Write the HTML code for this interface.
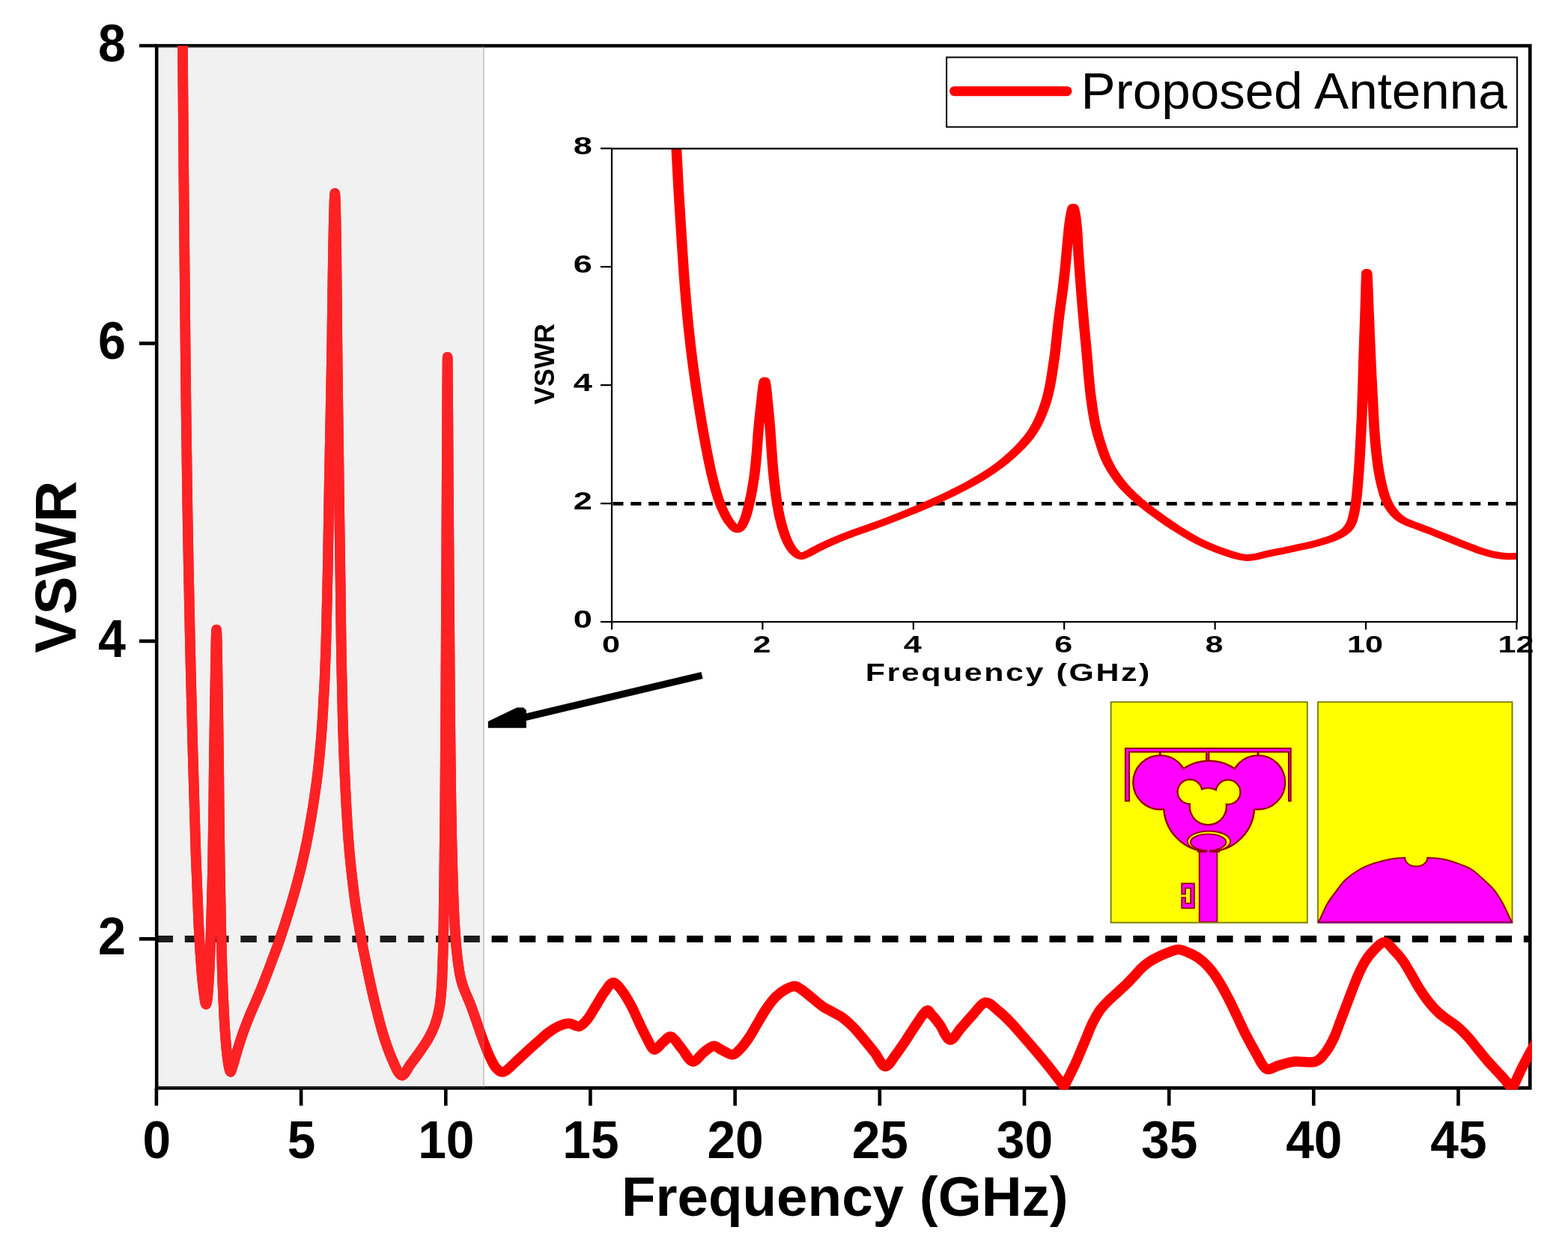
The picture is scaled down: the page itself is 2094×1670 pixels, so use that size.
<!DOCTYPE html><html><head><meta charset="utf-8"><style>html,body{margin:0;padding:0;background:#fff;overflow:hidden}svg{display:block}</style></head><body><svg width="2094" height="1670" viewBox="0 0 2094 1670">
<defs>
<clipPath id="cm"><rect x="207" y="61" width="1838.8" height="1393.8"/></clipPath>
<clipPath id="ci"><rect x="0" y="198.4" width="790.20" height="632"/></clipPath>
</defs>
<rect width="2094" height="1670" fill="#fff"/>
<g stroke="#000" stroke-width="4.6" fill="none">
<rect x="209.2" y="61.1" width="1834.1" height="1391.3"/>
</g>
<path d="M186,1253.4H209.2 M186,855.9H209.2 M186,458.4H209.2 M186,61.0H209.2 M208.9,1452.4V1476 M402.1,1452.4V1476 M595.3,1452.4V1476 M788.4,1452.4V1476 M981.6,1452.4V1476 M1174.8,1452.4V1476 M1368.0,1452.4V1476 M1561.2,1452.4V1476 M1754.3,1452.4V1476 M1947.5,1452.4V1476" stroke="#000" stroke-width="4.6" fill="none"/>
<path d="M209.55,1253.4H2043" stroke="#000" stroke-width="9" stroke-dasharray="21.5 15.75" fill="none"/>
<path d="M243.3,-60.0 C243.4,-38.8 243.7,23.0 244.0,67.3 C244.3,111.7 244.7,157.5 245.1,206.3 C245.6,255.1 246.1,307.8 246.6,360.1 C247.1,412.3 247.6,466.6 248.2,519.8 C248.9,573.1 249.6,626.3 250.4,679.6 C251.3,732.8 252.3,786.1 253.5,839.3 C254.6,892.5 256.0,949.1 257.4,999.0 C258.7,1048.9 260.1,1099.2 261.5,1138.7 C262.8,1178.2 264.1,1209.5 265.4,1236.0 C266.7,1262.5 268.1,1282.0 269.3,1297.6 C270.6,1313.3 271.8,1322.7 272.8,1329.8 C273.8,1337.0 274.5,1341.0 275.3,1340.7 C276.1,1340.3 276.7,1336.0 277.5,1327.8 C278.2,1319.6 279.0,1307.9 279.8,1291.5 C280.6,1275.0 281.4,1251.4 282.1,1229.0 C282.8,1206.5 283.5,1180.8 284.0,1156.8 C284.5,1132.7 284.8,1108.6 285.1,1084.5 C285.4,1060.4 285.6,1037.4 285.9,1012.2 C286.3,987.0 286.6,961.7 287.1,933.1 C287.7,904.5 288.5,840.6 289.1,840.6 C289.8,840.6 290.5,904.5 291.0,933.1 C291.5,961.7 291.8,987.0 292.1,1012.2 C292.4,1037.4 292.5,1060.4 292.8,1084.5 C293.1,1108.6 293.4,1132.7 293.7,1156.8 C294.1,1180.8 294.5,1204.9 295.0,1229.0 C295.5,1253.0 296.1,1278.7 296.9,1301.2 C297.7,1323.7 298.8,1347.0 299.7,1364.1 C300.7,1381.1 301.8,1394.0 302.8,1403.7 C303.7,1413.5 304.5,1418.0 305.3,1422.5 C306.2,1427.0 306.9,1430.5 307.8,1430.7 C308.7,1431.0 309.5,1427.3 310.6,1423.9 C311.8,1420.6 313.0,1415.8 314.5,1410.6 C316.1,1405.4 318.0,1398.7 319.8,1392.9 C321.7,1387.1 323.7,1381.1 325.7,1375.6 C327.7,1370.2 329.6,1365.1 331.6,1360.2 C333.5,1355.3 335.5,1350.8 337.4,1346.3 C339.4,1341.7 341.4,1337.2 343.3,1332.8 C345.2,1328.4 347.0,1324.3 348.9,1319.6 C350.8,1314.9 352.6,1310.4 354.8,1304.8 C356.9,1299.1 359.4,1292.6 362.0,1285.8 C364.5,1279.0 367.4,1271.6 370.1,1264.1 C372.7,1256.5 375.4,1248.8 378.1,1240.7 C380.8,1232.5 383.5,1224.1 386.2,1215.3 C388.9,1206.5 391.6,1197.5 394.3,1187.8 C396.9,1178.1 399.8,1167.5 402.3,1157.1 C404.8,1146.6 407.3,1135.4 409.4,1125.1 C411.5,1114.8 413.1,1105.6 414.9,1095.3 C416.7,1085.1 418.4,1074.9 420.0,1063.4 C421.7,1052.0 423.5,1039.2 424.9,1026.7 C426.3,1014.1 427.5,1001.0 428.6,988.2 C429.7,975.4 430.5,962.6 431.3,949.8 C432.1,937.0 432.8,924.2 433.4,911.4 C434.0,898.6 434.5,885.8 434.9,873.0 C435.4,860.2 435.7,847.3 436.0,834.6 C436.3,821.9 436.6,810.4 436.9,796.7 C437.2,783.0 437.6,768.9 437.9,752.3 C438.2,735.8 438.5,715.7 438.8,697.6 C439.1,679.4 439.4,661.6 439.7,643.7 C440.0,625.7 440.4,609.2 440.8,589.8 C441.2,570.5 441.6,549.1 442.0,527.7 C442.4,506.3 442.8,483.5 443.2,461.4 C443.5,439.3 443.8,416.5 444.1,395.1 C444.4,373.6 444.7,351.0 445.0,332.9 C445.3,314.7 445.6,298.7 446.0,286.2 C446.4,273.7 446.8,258.0 447.2,258.0 C447.6,258.0 448.1,273.7 448.4,286.2 C448.7,298.7 449.0,314.7 449.2,332.9 C449.4,351.0 449.6,373.6 449.8,395.1 C450.0,416.5 450.2,439.3 450.4,461.4 C450.7,483.5 451.0,505.6 451.2,527.7 C451.5,549.8 451.8,571.9 452.1,594.0 C452.4,616.1 452.7,639.1 452.9,660.3 C453.2,681.4 453.5,701.7 453.8,720.9 C454.1,740.1 454.3,757.5 454.6,775.3 C454.8,793.2 455.0,811.8 455.2,828.1 C455.4,844.3 455.7,859.1 455.9,873.0 C456.1,886.9 456.4,898.6 456.7,911.4 C456.9,924.2 457.2,937.0 457.5,949.8 C457.8,962.6 458.1,975.4 458.6,988.2 C459.0,1001.0 459.5,1013.9 460.1,1026.7 C460.6,1039.5 461.3,1052.2 461.9,1065.0 C462.6,1077.8 463.3,1091.2 464.1,1103.4 C464.9,1115.7 465.8,1127.5 466.8,1138.7 C467.9,1150.0 468.8,1159.4 470.2,1171.0 C471.5,1182.6 473.0,1195.1 474.9,1208.2 C476.9,1221.3 479.3,1235.9 481.8,1249.7 C484.3,1263.4 486.9,1276.4 489.9,1290.5 C492.8,1304.7 496.0,1319.6 499.5,1334.4 C503.1,1349.2 507.2,1366.1 511.2,1379.3 C515.2,1392.6 519.5,1404.7 523.7,1414.1 C527.8,1423.4 532.0,1434.5 536.1,1435.5 C540.3,1436.5 544.4,1425.5 548.6,1420.2 C552.7,1414.8 557.1,1409.0 561.0,1403.3 C565.0,1397.6 569.1,1392.0 572.5,1385.8 C575.9,1379.7 579.0,1373.4 581.4,1366.4 C583.8,1359.5 585.6,1352.3 587.0,1344.4 C588.4,1336.4 589.0,1328.7 589.7,1318.8 C590.4,1308.9 590.8,1298.6 591.2,1284.9 C591.7,1271.3 592.1,1256.2 592.4,1236.9 C592.8,1217.6 593.0,1194.5 593.3,1169.0 C593.6,1143.6 593.9,1118.8 594.2,1084.3 C594.5,1049.9 594.8,1011.5 595.1,962.4 C595.4,913.3 595.7,846.9 596.0,789.6 C596.3,732.3 596.6,670.7 596.8,618.6 C597.1,566.4 597.4,476.8 597.7,476.8 C598.0,476.8 598.4,566.4 598.7,618.6 C599.1,670.7 599.5,733.3 599.9,789.6 C600.3,846.0 600.7,911.4 601.1,956.7 C601.5,1002.1 601.9,1033.4 602.3,1061.7 C602.7,1090.1 603.0,1106.5 603.5,1126.7 C603.9,1147.0 604.4,1166.2 605.0,1183.2 C605.6,1200.1 606.2,1215.2 606.9,1228.4 C607.6,1241.6 608.4,1252.5 609.2,1262.2 C610.0,1271.8 610.9,1279.3 611.9,1286.3 C612.8,1293.3 613.7,1298.9 614.8,1304.1 C616.0,1309.2 617.1,1313.0 618.6,1317.4 C620.1,1321.8 621.9,1325.6 623.9,1330.4 C625.8,1335.2 626.7,1336.4 630.3,1346.3 C633.9,1356.1 641.6,1379.0 645.5,1389.5 C649.4,1400.0 650.8,1403.4 653.5,1409.3 C656.2,1415.2 658.8,1421.4 662.0,1425.0 C665.2,1428.6 668.4,1432.0 672.9,1430.8 C677.4,1429.5 683.7,1421.9 688.7,1417.5 C693.7,1413.1 698.2,1408.6 703.0,1404.2 C707.8,1399.9 712.5,1395.6 717.3,1391.4 C722.1,1387.2 726.8,1382.6 731.6,1379.0 C736.4,1375.4 741.2,1372.0 746.0,1369.9 C750.8,1367.7 755.8,1366.1 760.3,1366.2 C764.8,1366.3 769.1,1371.1 773.2,1370.2 C777.3,1369.3 780.8,1365.2 784.6,1360.6 C788.4,1355.9 792.3,1348.4 796.1,1342.3 C799.9,1336.2 803.8,1328.8 807.6,1323.8 C811.4,1318.7 815.0,1311.8 819.0,1311.8 C823.0,1311.8 827.5,1318.5 831.6,1323.8 C835.6,1329.0 839.6,1336.3 843.4,1343.4 C847.1,1350.5 850.7,1359.2 854.1,1366.3 C857.5,1373.4 860.5,1380.0 863.8,1385.8 C867.0,1391.6 870.0,1400.0 873.5,1401.0 C877.0,1402.0 881.1,1394.6 884.9,1391.8 C888.7,1389.0 892.2,1382.8 896.4,1384.1 C900.6,1385.4 905.2,1393.9 910.0,1399.4 C914.8,1404.9 920.1,1416.1 925.0,1417.1 C929.9,1418.1 934.5,1408.8 939.1,1405.3 C943.7,1401.9 948.3,1396.9 952.6,1396.4 C956.9,1395.9 960.6,1400.4 965.0,1402.3 C969.3,1404.2 974.6,1408.4 978.7,1407.8 C982.8,1407.2 986.1,1402.8 989.8,1399.0 C993.4,1395.1 996.8,1390.4 1000.5,1384.9 C1004.1,1379.4 1007.8,1372.5 1011.6,1366.1 C1015.4,1359.7 1019.3,1352.5 1023.5,1346.5 C1027.6,1340.5 1032.0,1334.7 1036.3,1330.3 C1040.7,1326.0 1045.3,1322.8 1049.6,1320.5 C1053.8,1318.2 1057.7,1316.0 1061.7,1316.5 C1065.7,1317.0 1069.5,1320.5 1073.6,1323.3 C1077.6,1326.1 1081.9,1330.1 1086.1,1333.5 C1090.3,1336.9 1094.6,1340.8 1099.0,1343.8 C1103.4,1346.7 1107.8,1348.5 1112.2,1351.1 C1116.7,1353.6 1121.3,1355.6 1125.8,1358.9 C1130.4,1362.3 1134.9,1366.4 1139.4,1371.1 C1144.0,1375.8 1148.7,1381.4 1153.4,1387.1 C1158.1,1392.7 1163.0,1398.8 1167.8,1404.8 C1172.6,1410.9 1177.4,1422.9 1182.1,1423.5 C1186.8,1424.1 1191.5,1414.1 1196.0,1408.4 C1200.6,1402.7 1204.9,1396.0 1209.3,1389.4 C1213.7,1382.8 1218.1,1375.5 1222.7,1368.8 C1227.3,1362.2 1233.4,1351.9 1237.0,1349.5 C1240.6,1347.1 1241.3,1351.6 1244.3,1354.7 C1247.3,1357.7 1251.0,1362.3 1255.0,1367.9 C1259.1,1373.5 1264.0,1387.3 1268.7,1388.1 C1273.4,1388.9 1278.1,1378.3 1283.0,1372.9 C1287.9,1367.5 1292.9,1361.2 1298.4,1355.5 C1303.9,1349.7 1310.2,1339.4 1315.9,1338.3 C1321.6,1337.2 1327.2,1344.7 1332.8,1349.0 C1338.3,1353.3 1343.7,1358.6 1349.2,1364.3 C1354.8,1370.0 1360.4,1376.9 1366.1,1383.3 C1371.8,1389.7 1377.4,1396.1 1383.3,1403.0 C1389.2,1409.9 1395.0,1416.9 1401.3,1424.8 C1407.6,1432.8 1417.7,1446.2 1421.0,1450.5 C1423.5,1445.4 1431.6,1429.7 1436.2,1419.7 C1440.8,1409.6 1444.8,1399.3 1448.7,1390.3 C1452.5,1381.2 1455.8,1372.3 1459.2,1365.3 C1462.6,1358.4 1465.6,1353.2 1469.1,1348.3 C1472.6,1343.4 1476.3,1340.0 1480.3,1335.9 C1484.3,1331.9 1489.1,1327.9 1493.3,1324.0 C1497.5,1320.1 1502.0,1316.1 1505.6,1312.5 C1509.3,1308.8 1512.3,1305.4 1515.4,1302.2 C1518.5,1298.9 1520.8,1295.8 1524.1,1292.7 C1527.3,1289.6 1531.0,1286.5 1535.0,1283.8 C1539.1,1281.0 1544.2,1278.5 1548.7,1276.3 C1553.2,1274.2 1557.9,1272.4 1561.9,1270.9 C1566.0,1269.5 1569.1,1267.5 1573.0,1267.5 C1576.9,1267.5 1580.9,1269.2 1585.2,1270.8 C1589.5,1272.5 1594.2,1274.5 1598.8,1277.7 C1603.5,1280.9 1608.3,1284.7 1613.1,1290.0 C1617.9,1295.2 1622.8,1302.0 1627.4,1309.3 C1632.1,1316.6 1636.8,1325.7 1641.0,1333.8 C1645.3,1342.0 1649.1,1350.5 1652.9,1358.4 C1656.6,1366.2 1659.8,1373.5 1663.6,1380.9 C1667.4,1388.4 1671.3,1395.6 1675.8,1403.2 C1680.3,1410.8 1685.2,1423.3 1690.5,1426.5 C1695.8,1429.7 1701.4,1424.0 1707.6,1422.4 C1713.8,1420.9 1719.6,1418.1 1727.7,1417.2 C1735.8,1416.3 1749.2,1419.4 1756.4,1417.2 C1763.6,1415.0 1766.7,1409.2 1770.9,1403.8 C1775.1,1398.5 1778.4,1391.8 1781.6,1385.0 C1784.8,1378.3 1787.1,1370.7 1789.9,1363.5 C1792.6,1356.3 1795.4,1349.2 1798.1,1342.0 C1800.9,1334.8 1803.5,1327.4 1806.3,1320.4 C1809.0,1313.5 1811.6,1306.5 1814.5,1300.2 C1817.4,1293.9 1820.1,1288.0 1823.5,1282.7 C1826.8,1277.4 1830.5,1272.6 1834.8,1268.4 C1839.0,1264.2 1844.5,1257.6 1849.0,1257.7 C1853.5,1257.8 1857.6,1264.7 1861.7,1268.8 C1865.7,1272.9 1869.7,1277.2 1873.5,1282.4 C1877.2,1287.7 1880.6,1294.0 1884.3,1300.2 C1888.0,1306.4 1891.5,1313.4 1895.5,1319.7 C1899.4,1325.9 1903.7,1332.2 1908.0,1337.6 C1912.3,1343.0 1916.8,1347.9 1921.2,1351.9 C1925.6,1356.0 1930.0,1358.7 1934.4,1362.0 C1938.8,1365.2 1943.1,1367.8 1947.5,1371.6 C1951.9,1375.3 1956.3,1379.9 1960.7,1384.8 C1965.1,1389.6 1969.5,1395.6 1973.9,1400.9 C1978.3,1406.2 1982.7,1411.7 1987.0,1416.7 C1991.4,1421.7 1995.9,1426.3 1999.9,1430.7 C2003.9,1435.1 2007.7,1439.1 2011.0,1443.0 C2014.2,1446.9 2018.1,1452.2 2019.5,1454.0 C2021.4,1449.8 2027.5,1436.0 2031.1,1428.5 C2034.7,1421.0 2037.6,1415.6 2041.1,1409.2 C2044.6,1402.8 2050.2,1393.2 2052.0,1390.0" stroke="#ff0000" stroke-width="13.6" fill="none" stroke-linejoin="round" clip-path="url(#cm)"/>
<rect x="211.5" y="61.1" width="434.5" height="1391.3" fill="rgb(170,170,170)" fill-opacity="0.165"/>
<clipPath id="cs"><rect x="211.5" y="61.1" width="434.5" height="1391.3"/></clipPath>
<path d="M243.3,-60.0 C243.4,-38.8 243.7,23.0 244.0,67.3 C244.3,111.7 244.7,157.5 245.1,206.3 C245.6,255.1 246.1,307.8 246.6,360.1 C247.1,412.3 247.6,466.6 248.2,519.8 C248.9,573.1 249.6,626.3 250.4,679.6 C251.3,732.8 252.3,786.1 253.5,839.3 C254.6,892.5 256.0,949.1 257.4,999.0 C258.7,1048.9 260.1,1099.2 261.5,1138.7 C262.8,1178.2 264.1,1209.5 265.4,1236.0 C266.7,1262.5 268.1,1282.0 269.3,1297.6 C270.6,1313.3 271.8,1322.7 272.8,1329.8 C273.8,1337.0 274.5,1341.0 275.3,1340.7 C276.1,1340.3 276.7,1336.0 277.5,1327.8 C278.2,1319.6 279.0,1307.9 279.8,1291.5 C280.6,1275.0 281.4,1251.4 282.1,1229.0 C282.8,1206.5 283.5,1180.8 284.0,1156.8 C284.5,1132.7 284.8,1108.6 285.1,1084.5 C285.4,1060.4 285.6,1037.4 285.9,1012.2 C286.3,987.0 286.6,961.7 287.1,933.1 C287.7,904.5 288.5,840.6 289.1,840.6 C289.8,840.6 290.5,904.5 291.0,933.1 C291.5,961.7 291.8,987.0 292.1,1012.2 C292.4,1037.4 292.5,1060.4 292.8,1084.5 C293.1,1108.6 293.4,1132.7 293.7,1156.8 C294.1,1180.8 294.5,1204.9 295.0,1229.0 C295.5,1253.0 296.1,1278.7 296.9,1301.2 C297.7,1323.7 298.8,1347.0 299.7,1364.1 C300.7,1381.1 301.8,1394.0 302.8,1403.7 C303.7,1413.5 304.5,1418.0 305.3,1422.5 C306.2,1427.0 306.9,1430.5 307.8,1430.7 C308.7,1431.0 309.5,1427.3 310.6,1423.9 C311.8,1420.6 313.0,1415.8 314.5,1410.6 C316.1,1405.4 318.0,1398.7 319.8,1392.9 C321.7,1387.1 323.7,1381.1 325.7,1375.6 C327.7,1370.2 329.6,1365.1 331.6,1360.2 C333.5,1355.3 335.5,1350.8 337.4,1346.3 C339.4,1341.7 341.4,1337.2 343.3,1332.8 C345.2,1328.4 347.0,1324.3 348.9,1319.6 C350.8,1314.9 352.6,1310.4 354.8,1304.8 C356.9,1299.1 359.4,1292.6 362.0,1285.8 C364.5,1279.0 367.4,1271.6 370.1,1264.1 C372.7,1256.5 375.4,1248.8 378.1,1240.7 C380.8,1232.5 383.5,1224.1 386.2,1215.3 C388.9,1206.5 391.6,1197.5 394.3,1187.8 C396.9,1178.1 399.8,1167.5 402.3,1157.1 C404.8,1146.6 407.3,1135.4 409.4,1125.1 C411.5,1114.8 413.1,1105.6 414.9,1095.3 C416.7,1085.1 418.4,1074.9 420.0,1063.4 C421.7,1052.0 423.5,1039.2 424.9,1026.7 C426.3,1014.1 427.5,1001.0 428.6,988.2 C429.7,975.4 430.5,962.6 431.3,949.8 C432.1,937.0 432.8,924.2 433.4,911.4 C434.0,898.6 434.5,885.8 434.9,873.0 C435.4,860.2 435.7,847.3 436.0,834.6 C436.3,821.9 436.6,810.4 436.9,796.7 C437.2,783.0 437.6,768.9 437.9,752.3 C438.2,735.8 438.5,715.7 438.8,697.6 C439.1,679.4 439.4,661.6 439.7,643.7 C440.0,625.7 440.4,609.2 440.8,589.8 C441.2,570.5 441.6,549.1 442.0,527.7 C442.4,506.3 442.8,483.5 443.2,461.4 C443.5,439.3 443.8,416.5 444.1,395.1 C444.4,373.6 444.7,351.0 445.0,332.9 C445.3,314.7 445.6,298.7 446.0,286.2 C446.4,273.7 446.8,258.0 447.2,258.0 C447.6,258.0 448.1,273.7 448.4,286.2 C448.7,298.7 449.0,314.7 449.2,332.9 C449.4,351.0 449.6,373.6 449.8,395.1 C450.0,416.5 450.2,439.3 450.4,461.4 C450.7,483.5 451.0,505.6 451.2,527.7 C451.5,549.8 451.8,571.9 452.1,594.0 C452.4,616.1 452.7,639.1 452.9,660.3 C453.2,681.4 453.5,701.7 453.8,720.9 C454.1,740.1 454.3,757.5 454.6,775.3 C454.8,793.2 455.0,811.8 455.2,828.1 C455.4,844.3 455.7,859.1 455.9,873.0 C456.1,886.9 456.4,898.6 456.7,911.4 C456.9,924.2 457.2,937.0 457.5,949.8 C457.8,962.6 458.1,975.4 458.6,988.2 C459.0,1001.0 459.5,1013.9 460.1,1026.7 C460.6,1039.5 461.3,1052.2 461.9,1065.0 C462.6,1077.8 463.3,1091.2 464.1,1103.4 C464.9,1115.7 465.8,1127.5 466.8,1138.7 C467.9,1150.0 468.8,1159.4 470.2,1171.0 C471.5,1182.6 473.0,1195.1 474.9,1208.2 C476.9,1221.3 479.3,1235.9 481.8,1249.7 C484.3,1263.4 486.9,1276.4 489.9,1290.5 C492.8,1304.7 496.0,1319.6 499.5,1334.4 C503.1,1349.2 507.2,1366.1 511.2,1379.3 C515.2,1392.6 519.5,1404.7 523.7,1414.1 C527.8,1423.4 532.0,1434.5 536.1,1435.5 C540.3,1436.5 544.4,1425.5 548.6,1420.2 C552.7,1414.8 557.1,1409.0 561.0,1403.3 C565.0,1397.6 569.1,1392.0 572.5,1385.8 C575.9,1379.7 579.0,1373.4 581.4,1366.4 C583.8,1359.5 585.6,1352.3 587.0,1344.4 C588.4,1336.4 589.0,1328.7 589.7,1318.8 C590.4,1308.9 590.8,1298.6 591.2,1284.9 C591.7,1271.3 592.1,1256.2 592.4,1236.9 C592.8,1217.6 593.0,1194.5 593.3,1169.0 C593.6,1143.6 593.9,1118.8 594.2,1084.3 C594.5,1049.9 594.8,1011.5 595.1,962.4 C595.4,913.3 595.7,846.9 596.0,789.6 C596.3,732.3 596.6,670.7 596.8,618.6 C597.1,566.4 597.4,476.8 597.7,476.8 C598.0,476.8 598.4,566.4 598.7,618.6 C599.1,670.7 599.5,733.3 599.9,789.6 C600.3,846.0 600.7,911.4 601.1,956.7 C601.5,1002.1 601.9,1033.4 602.3,1061.7 C602.7,1090.1 603.0,1106.5 603.5,1126.7 C603.9,1147.0 604.4,1166.2 605.0,1183.2 C605.6,1200.1 606.2,1215.2 606.9,1228.4 C607.6,1241.6 608.4,1252.5 609.2,1262.2 C610.0,1271.8 610.9,1279.3 611.9,1286.3 C612.8,1293.3 613.7,1298.9 614.8,1304.1 C616.0,1309.2 617.1,1313.0 618.6,1317.4 C620.1,1321.8 621.9,1325.6 623.9,1330.4 C625.8,1335.2 626.7,1336.4 630.3,1346.3 C633.9,1356.1 641.6,1379.0 645.5,1389.5 C649.4,1400.0 650.8,1403.4 653.5,1409.3 C656.2,1415.2 658.8,1421.4 662.0,1425.0 C665.2,1428.6 668.4,1432.0 672.9,1430.8 C677.4,1429.5 683.7,1421.9 688.7,1417.5 C693.7,1413.1 698.2,1408.6 703.0,1404.2 C707.8,1399.9 712.5,1395.6 717.3,1391.4 C722.1,1387.2 726.8,1382.6 731.6,1379.0 C736.4,1375.4 741.2,1372.0 746.0,1369.9 C750.8,1367.7 755.8,1366.1 760.3,1366.2 C764.8,1366.3 769.1,1371.1 773.2,1370.2 C777.3,1369.3 780.8,1365.2 784.6,1360.6 C788.4,1355.9 792.3,1348.4 796.1,1342.3 C799.9,1336.2 803.8,1328.8 807.6,1323.8 C811.4,1318.7 815.0,1311.8 819.0,1311.8 C823.0,1311.8 827.5,1318.5 831.6,1323.8 C835.6,1329.0 839.6,1336.3 843.4,1343.4 C847.1,1350.5 850.7,1359.2 854.1,1366.3 C857.5,1373.4 860.5,1380.0 863.8,1385.8 C867.0,1391.6 870.0,1400.0 873.5,1401.0 C877.0,1402.0 881.1,1394.6 884.9,1391.8 C888.7,1389.0 892.2,1382.8 896.4,1384.1 C900.6,1385.4 905.2,1393.9 910.0,1399.4 C914.8,1404.9 920.1,1416.1 925.0,1417.1 C929.9,1418.1 934.5,1408.8 939.1,1405.3 C943.7,1401.9 948.3,1396.9 952.6,1396.4 C956.9,1395.9 960.6,1400.4 965.0,1402.3 C969.3,1404.2 974.6,1408.4 978.7,1407.8 C982.8,1407.2 986.1,1402.8 989.8,1399.0 C993.4,1395.1 996.8,1390.4 1000.5,1384.9 C1004.1,1379.4 1007.8,1372.5 1011.6,1366.1 C1015.4,1359.7 1019.3,1352.5 1023.5,1346.5 C1027.6,1340.5 1032.0,1334.7 1036.3,1330.3 C1040.7,1326.0 1045.3,1322.8 1049.6,1320.5 C1053.8,1318.2 1057.7,1316.0 1061.7,1316.5 C1065.7,1317.0 1069.5,1320.5 1073.6,1323.3 C1077.6,1326.1 1081.9,1330.1 1086.1,1333.5 C1090.3,1336.9 1094.6,1340.8 1099.0,1343.8 C1103.4,1346.7 1107.8,1348.5 1112.2,1351.1 C1116.7,1353.6 1121.3,1355.6 1125.8,1358.9 C1130.4,1362.3 1134.9,1366.4 1139.4,1371.1 C1144.0,1375.8 1148.7,1381.4 1153.4,1387.1 C1158.1,1392.7 1163.0,1398.8 1167.8,1404.8 C1172.6,1410.9 1177.4,1422.9 1182.1,1423.5 C1186.8,1424.1 1191.5,1414.1 1196.0,1408.4 C1200.6,1402.7 1204.9,1396.0 1209.3,1389.4 C1213.7,1382.8 1218.1,1375.5 1222.7,1368.8 C1227.3,1362.2 1233.4,1351.9 1237.0,1349.5 C1240.6,1347.1 1241.3,1351.6 1244.3,1354.7 C1247.3,1357.7 1251.0,1362.3 1255.0,1367.9 C1259.1,1373.5 1264.0,1387.3 1268.7,1388.1 C1273.4,1388.9 1278.1,1378.3 1283.0,1372.9 C1287.9,1367.5 1292.9,1361.2 1298.4,1355.5 C1303.9,1349.7 1310.2,1339.4 1315.9,1338.3 C1321.6,1337.2 1327.2,1344.7 1332.8,1349.0 C1338.3,1353.3 1343.7,1358.6 1349.2,1364.3 C1354.8,1370.0 1360.4,1376.9 1366.1,1383.3 C1371.8,1389.7 1377.4,1396.1 1383.3,1403.0 C1389.2,1409.9 1395.0,1416.9 1401.3,1424.8 C1407.6,1432.8 1417.7,1446.2 1421.0,1450.5 C1423.5,1445.4 1431.6,1429.7 1436.2,1419.7 C1440.8,1409.6 1444.8,1399.3 1448.7,1390.3 C1452.5,1381.2 1455.8,1372.3 1459.2,1365.3 C1462.6,1358.4 1465.6,1353.2 1469.1,1348.3 C1472.6,1343.4 1476.3,1340.0 1480.3,1335.9 C1484.3,1331.9 1489.1,1327.9 1493.3,1324.0 C1497.5,1320.1 1502.0,1316.1 1505.6,1312.5 C1509.3,1308.8 1512.3,1305.4 1515.4,1302.2 C1518.5,1298.9 1520.8,1295.8 1524.1,1292.7 C1527.3,1289.6 1531.0,1286.5 1535.0,1283.8 C1539.1,1281.0 1544.2,1278.5 1548.7,1276.3 C1553.2,1274.2 1557.9,1272.4 1561.9,1270.9 C1566.0,1269.5 1569.1,1267.5 1573.0,1267.5 C1576.9,1267.5 1580.9,1269.2 1585.2,1270.8 C1589.5,1272.5 1594.2,1274.5 1598.8,1277.7 C1603.5,1280.9 1608.3,1284.7 1613.1,1290.0 C1617.9,1295.2 1622.8,1302.0 1627.4,1309.3 C1632.1,1316.6 1636.8,1325.7 1641.0,1333.8 C1645.3,1342.0 1649.1,1350.5 1652.9,1358.4 C1656.6,1366.2 1659.8,1373.5 1663.6,1380.9 C1667.4,1388.4 1671.3,1395.6 1675.8,1403.2 C1680.3,1410.8 1685.2,1423.3 1690.5,1426.5 C1695.8,1429.7 1701.4,1424.0 1707.6,1422.4 C1713.8,1420.9 1719.6,1418.1 1727.7,1417.2 C1735.8,1416.3 1749.2,1419.4 1756.4,1417.2 C1763.6,1415.0 1766.7,1409.2 1770.9,1403.8 C1775.1,1398.5 1778.4,1391.8 1781.6,1385.0 C1784.8,1378.3 1787.1,1370.7 1789.9,1363.5 C1792.6,1356.3 1795.4,1349.2 1798.1,1342.0 C1800.9,1334.8 1803.5,1327.4 1806.3,1320.4 C1809.0,1313.5 1811.6,1306.5 1814.5,1300.2 C1817.4,1293.9 1820.1,1288.0 1823.5,1282.7 C1826.8,1277.4 1830.5,1272.6 1834.8,1268.4 C1839.0,1264.2 1844.5,1257.6 1849.0,1257.7 C1853.5,1257.8 1857.6,1264.7 1861.7,1268.8 C1865.7,1272.9 1869.7,1277.2 1873.5,1282.4 C1877.2,1287.7 1880.6,1294.0 1884.3,1300.2 C1888.0,1306.4 1891.5,1313.4 1895.5,1319.7 C1899.4,1325.9 1903.7,1332.2 1908.0,1337.6 C1912.3,1343.0 1916.8,1347.9 1921.2,1351.9 C1925.6,1356.0 1930.0,1358.7 1934.4,1362.0 C1938.8,1365.2 1943.1,1367.8 1947.5,1371.6 C1951.9,1375.3 1956.3,1379.9 1960.7,1384.8 C1965.1,1389.6 1969.5,1395.6 1973.9,1400.9 C1978.3,1406.2 1982.7,1411.7 1987.0,1416.7 C1991.4,1421.7 1995.9,1426.3 1999.9,1430.7 C2003.9,1435.1 2007.7,1439.1 2011.0,1443.0 C2014.2,1446.9 2018.1,1452.2 2019.5,1454.0 C2021.4,1449.8 2027.5,1436.0 2031.1,1428.5 C2034.7,1421.0 2037.6,1415.6 2041.1,1409.2 C2044.6,1402.8 2050.2,1393.2 2052.0,1390.0" stroke="#ff2224" stroke-width="13.6" fill="none" stroke-linejoin="round" clip-path="url(#cs)"/>
<path d="M646,61V1452.4" stroke="rgb(128,128,128)" stroke-opacity="0.5" stroke-width="1.4"/>
<g font-family="Liberation Sans, Arial, sans-serif" font-weight="bold" font-size="68" fill="#000">
<text transform="translate(168,1274.0) scale(0.95,1)" text-anchor="end" font-size="70">2</text>
<text transform="translate(168,876.5) scale(0.95,1)" text-anchor="end" font-size="70">4</text>
<text transform="translate(168,479.0) scale(0.95,1)" text-anchor="end" font-size="70">6</text>
<text transform="translate(168,81.6) scale(0.95,1)" text-anchor="end" font-size="70">8</text>
<text transform="translate(209.4,1545.7) scale(0.96,1)" text-anchor="middle" font-size="70.5">0</text>
<text transform="translate(402.6,1545.7) scale(0.96,1)" text-anchor="middle" font-size="70.5">5</text>
<text transform="translate(595.8,1545.7) scale(0.96,1)" text-anchor="middle" font-size="70.5">10</text>
<text transform="translate(788.9,1545.7) scale(0.96,1)" text-anchor="middle" font-size="70.5">15</text>
<text transform="translate(982.1,1545.7) scale(0.96,1)" text-anchor="middle" font-size="70.5">20</text>
<text transform="translate(1175.3,1545.7) scale(0.96,1)" text-anchor="middle" font-size="70.5">25</text>
<text transform="translate(1368.5,1545.7) scale(0.96,1)" text-anchor="middle" font-size="70.5">30</text>
<text transform="translate(1561.7,1545.7) scale(0.96,1)" text-anchor="middle" font-size="70.5">35</text>
<text transform="translate(1754.8,1545.7) scale(0.96,1)" text-anchor="middle" font-size="70.5">40</text>
<text transform="translate(1948.0,1545.7) scale(0.96,1)" text-anchor="middle" font-size="70.5">45</text>
</g>
<text x="1128.3" y="1623.4" text-anchor="middle" font-family="Liberation Sans, Arial, sans-serif" font-weight="bold" font-size="74.6">Frequency (GHz)</text>
<text transform="translate(101.3,756.8) rotate(-90) scale(0.982,1)" text-anchor="middle" font-family="Liberation Sans, Arial, sans-serif" font-weight="bold" font-size="78">VSWR</text>
<rect x="1264.1" y="76.5" width="761.9" height="93" fill="#fff" stroke="#000" stroke-width="2"/>
<path d="M1274.5,121.7H1425" stroke="#ff0000" stroke-width="13" stroke-linecap="round"/>
<text transform="translate(1443.6,145.3) scale(1.017,1)" font-family="Liberation Sans, Arial, sans-serif" font-size="68">Proposed Antenna</text>
<rect x="817" y="198.4" width="1209" height="631.7" fill="#fff"/>
<path d="M818.45,672.4H2026" stroke="#000" stroke-width="4.8" stroke-dasharray="14 9.85" fill="none"/>
<g transform="translate(817,0) scale(1.53,1)"><path d="M55.2,150.0 C55.4,158.4 55.9,183.0 56.5,200.6 C57.0,218.3 57.7,236.5 58.4,255.9 C59.2,275.3 60.0,296.2 60.9,317.0 C61.8,337.8 62.6,359.3 63.7,380.5 C64.8,401.7 66.0,422.8 67.5,444.0 C69.0,465.2 70.7,486.3 72.7,507.5 C74.6,528.7 77.0,551.1 79.2,571.0 C81.5,590.8 84.0,610.8 86.2,626.5 C88.5,642.2 90.7,654.7 92.9,665.2 C95.1,675.7 97.5,683.5 99.7,689.7 C101.8,695.9 103.9,699.6 105.6,702.5 C107.2,705.4 108.5,706.9 109.8,706.8 C111.1,706.7 112.2,704.9 113.5,701.7 C114.8,698.4 116.1,693.8 117.5,687.2 C118.8,680.7 120.2,671.3 121.4,662.4 C122.6,653.5 123.7,643.3 124.6,633.7 C125.4,624.1 126.0,614.6 126.5,605.0 C127.1,595.4 127.3,586.3 127.9,576.2 C128.5,566.2 129.1,556.2 130.0,544.8 C130.9,533.4 132.3,508.0 133.4,508.0 C134.5,508.0 135.8,533.4 136.6,544.8 C137.4,556.2 137.9,566.2 138.4,576.2 C138.9,586.3 139.2,595.4 139.7,605.0 C140.1,614.6 140.6,624.1 141.2,633.7 C141.9,643.3 142.5,652.8 143.4,662.4 C144.3,672.0 145.3,682.2 146.7,691.1 C148.0,700.1 149.8,709.3 151.5,716.1 C153.1,722.9 155.0,728.0 156.6,731.9 C158.2,735.7 159.6,737.5 161.0,739.3 C162.4,741.1 163.7,742.5 165.2,742.6 C166.7,742.7 168.1,741.2 170.0,739.9 C171.9,738.6 174.1,736.7 176.7,734.6 C179.3,732.5 182.5,729.9 185.7,727.6 C188.9,725.3 192.4,722.9 195.7,720.7 C199.0,718.5 202.4,716.5 205.7,714.6 C209.0,712.6 212.3,710.8 215.7,709.0 C219.0,707.2 222.4,705.4 225.6,703.7 C228.9,701.9 231.9,700.3 235.2,698.4 C238.4,696.6 241.5,694.8 245.2,692.5 C248.9,690.3 253.2,687.7 257.5,685.0 C261.9,682.3 266.7,679.3 271.2,676.4 C275.8,673.4 280.4,670.3 285.0,667.0 C289.5,663.8 294.1,660.5 298.7,657.0 C303.3,653.5 307.9,649.9 312.5,646.1 C317.1,642.2 321.9,638.0 326.2,633.8 C330.5,629.7 334.7,625.2 338.3,621.1 C341.9,617.0 344.6,613.4 347.6,609.3 C350.6,605.2 353.5,601.2 356.4,596.6 C359.2,592.0 362.3,587.0 364.7,582.0 C367.1,577.0 369.2,571.8 371.0,566.7 C372.8,561.6 374.2,556.5 375.6,551.4 C376.9,546.3 378.1,541.3 379.1,536.2 C380.1,531.1 381.0,526.0 381.7,520.9 C382.5,515.8 383.0,510.7 383.6,505.6 C384.1,500.6 384.6,496.0 385.1,490.6 C385.6,485.1 386.2,479.5 386.8,472.9 C387.3,466.4 387.8,458.4 388.4,451.2 C388.9,444.0 389.3,436.9 389.9,429.7 C390.4,422.6 391.0,416.0 391.7,408.3 C392.4,400.6 393.2,392.1 393.9,383.6 C394.5,375.1 395.2,366.1 395.8,357.3 C396.4,348.5 396.9,339.4 397.4,330.9 C397.9,322.4 398.4,313.4 398.9,306.2 C399.5,299.0 400.0,292.6 400.6,287.6 C401.3,282.7 402.0,276.4 402.7,276.4 C403.4,276.4 404.1,282.7 404.7,287.6 C405.2,292.6 405.7,299.0 406.1,306.2 C406.5,313.4 406.7,322.4 407.0,330.9 C407.4,339.4 407.8,348.5 408.2,357.3 C408.6,366.1 409.1,374.8 409.5,383.6 C410.0,392.4 410.5,401.2 410.9,410.0 C411.4,418.8 411.9,427.9 412.4,436.3 C412.9,444.7 413.4,452.8 413.9,460.4 C414.4,468.1 414.8,475.0 415.2,482.1 C415.6,489.2 415.9,496.6 416.3,503.0 C416.7,509.5 417.1,515.4 417.5,520.9 C417.9,526.4 418.3,531.1 418.8,536.2 C419.2,541.3 419.7,546.3 420.2,551.4 C420.8,556.5 421.3,561.6 422.0,566.7 C422.8,571.8 423.7,576.9 424.6,582.0 C425.6,587.1 426.6,592.1 427.7,597.2 C428.9,602.3 430.0,607.6 431.4,612.5 C432.8,617.4 434.4,622.0 436.1,626.5 C437.9,631.0 439.5,634.7 441.8,639.4 C444.1,644.0 446.6,648.9 449.9,654.1 C453.2,659.4 457.3,665.2 461.6,670.6 C465.8,676.1 470.3,681.3 475.4,686.9 C480.4,692.5 485.7,698.4 491.8,704.3 C497.9,710.2 504.8,716.9 511.7,722.2 C518.6,727.4 525.9,732.3 532.9,736.0 C540.0,739.7 547.0,744.1 554.1,744.5 C561.2,744.9 568.3,740.5 575.4,738.4 C582.4,736.3 589.8,734.0 596.6,731.7 C603.4,729.4 610.4,727.2 616.1,724.8 C621.9,722.3 627.2,719.8 631.3,717.0 C635.4,714.3 638.5,711.4 640.8,708.3 C643.2,705.1 644.3,702.0 645.5,698.1 C646.7,694.2 647.2,690.1 648.0,684.7 C648.8,679.2 649.4,673.2 650.0,665.5 C650.6,657.9 651.1,648.7 651.6,638.6 C652.1,628.5 652.6,618.6 653.1,604.9 C653.6,591.2 654.2,576.0 654.7,556.4 C655.2,536.9 655.7,510.5 656.1,487.8 C656.6,465.0 657.1,440.5 657.6,419.8 C658.1,399.0 658.5,363.4 659.0,363.4 C659.6,363.4 660.2,399.0 660.8,419.7 C661.4,440.5 662.0,465.3 662.7,487.8 C663.4,510.2 664.2,536.1 664.9,554.2 C665.5,572.2 666.1,584.7 666.8,595.9 C667.5,607.2 668.1,613.7 668.8,621.8 C669.6,629.8 670.5,637.5 671.5,644.2 C672.5,650.9 673.5,656.9 674.7,662.2 C675.9,667.4 677.2,671.8 678.6,675.6 C680.0,679.4 681.6,682.4 683.2,685.2 C684.8,688.0 686.3,690.2 688.2,692.2 C690.1,694.3 692.0,695.8 694.6,697.5 C697.2,699.3 700.3,700.8 703.6,702.7 C706.9,704.6 710.8,706.8 714.5,709.0 C718.2,711.2 722.0,713.6 725.8,715.9 C729.5,718.2 733.2,720.5 737.0,722.8 C740.7,725.1 744.5,727.4 748.2,729.6 C752.0,731.8 755.8,734.2 759.5,736.0 C763.1,737.7 766.8,739.3 770.1,740.4 C773.5,741.4 776.4,742.1 779.7,742.5 C783.1,742.9 788.5,742.5 790.2,742.5" stroke="#ff0000" stroke-width="9" fill="none" stroke-linejoin="round" clip-path="url(#ci)"/></g>
<rect x="817" y="198.4" width="1209" height="631.7" fill="none" stroke="#000" stroke-width="2.2"/>
<path d="M802,830.1H817 M802,672.1H817 M802,514.1H817 M802,356.1H817 M802,198.1H817 M817.0,830V840.5 M1018.4,830V840.5 M1219.8,830V840.5 M1421.2,830V840.5 M1622.6,830V840.5 M1824.0,830V840.5 M2025.4,830V840.5" stroke="#000" stroke-width="2.2" fill="none"/>
<g font-family="Liberation Sans, Arial, sans-serif" font-weight="bold" font-size="32" fill="#000">
<text transform="translate(791,838.1) scale(1.33,1)" text-anchor="end" font-size="34">0</text>
<text transform="translate(791,680.1) scale(1.33,1)" text-anchor="end" font-size="34">2</text>
<text transform="translate(791,522.1) scale(1.33,1)" text-anchor="end" font-size="34">4</text>
<text transform="translate(791,364.1) scale(1.33,1)" text-anchor="end" font-size="34">6</text>
<text transform="translate(791,206.1) scale(1.33,1)" text-anchor="end" font-size="34">8</text>
<text transform="translate(816.0,871.1) scale(1.35,1)" text-anchor="middle">0</text>
<text transform="translate(1017.4,871.1) scale(1.35,1)" text-anchor="middle">2</text>
<text transform="translate(1218.8,871.1) scale(1.35,1)" text-anchor="middle">4</text>
<text transform="translate(1420.2,871.1) scale(1.35,1)" text-anchor="middle">6</text>
<text transform="translate(1621.6,871.1) scale(1.35,1)" text-anchor="middle">8</text>
<text transform="translate(1823.0,871.1) scale(1.35,1)" text-anchor="middle">10</text>
<text transform="translate(2024.4,871.1) scale(1.35,1)" text-anchor="middle">12</text>
</g>
<text transform="translate(1346.8,909.2) scale(1.30,1)" text-anchor="middle" letter-spacing="2.0" font-family="Liberation Sans, Arial, sans-serif" font-weight="bold" font-size="33">Frequency (GHz)</text>
<text transform="translate(740.2,486) rotate(-90)" text-anchor="middle" font-family="Liberation Sans, Arial, sans-serif" font-weight="bold" font-size="36">VSWR</text>
<path d="M937.6,901.5L700,957.8" stroke="#000" stroke-width="9.5" fill="none"/>
<polygon points="651.8,962.9 651.8,971.8 702.9,971.8 702.9,948 699,944.4 690.3,944.4" fill="#000"/>
<g>
<rect x="1483.6" y="937.3" width="262.2" height="294.3" fill="#ffff00" stroke="#808000" stroke-width="1.6"/>
<polygon points="1502.9,998.9 1723.8,998.9 1723.8,1069.2 1721,1069.2 1721,1003.8 1614.4,1003.8 1614.4,1016 1611.1,1016 1611.1,1003.8 1508,1003.8 1508,1069.2 1502.9,1069.2" fill="#ff00ff" stroke="#900000" stroke-width="2"/>
<circle cx="1549.45" cy="1044.45" r="35.1" fill="#900000" stroke="#900000" stroke-width="4.4"/>
<circle cx="1680.05" cy="1044.45" r="35.1" fill="#900000" stroke="#900000" stroke-width="4.4"/>
<circle cx="1614.7" cy="1076.2" r="59.5" fill="#900000" stroke="#900000" stroke-width="4.4"/>
<circle cx="1549.45" cy="1044.45" r="35.1" fill="#ff00ff"/>
<circle cx="1680.05" cy="1044.45" r="35.1" fill="#ff00ff"/>
<circle cx="1614.7" cy="1076.2" r="59.5" fill="#ff00ff"/>
<circle cx="1613.3" cy="1076.6" r="23.5" fill="#900000" stroke="#900000" stroke-width="4.4"/>
<circle cx="1589" cy="1057" r="15.3" fill="#900000" stroke="#900000" stroke-width="4.4"/>
<circle cx="1640" cy="1057.5" r="15.3" fill="#900000" stroke="#900000" stroke-width="4.4"/>
<circle cx="1613.3" cy="1076.6" r="23.5" fill="#ffff00"/>
<circle cx="1589" cy="1057" r="15.3" fill="#ffff00"/>
<circle cx="1640" cy="1057.5" r="15.3" fill="#ffff00"/>
<ellipse cx="1614.5" cy="1123.2" rx="28.6" ry="13.7" fill="#ffff00" stroke="#900000" stroke-width="1.8"/>
<ellipse cx="1613.65" cy="1124.35" rx="23.8" ry="10.9" fill="#ff00ff" stroke="#900000" stroke-width="1.8"/>
<rect x="1601.7" y="1137.5" width="23.7" height="93.5" fill="#ff00ff" stroke="#900000" stroke-width="1.8"/>
<rect x="1602.7" y="1134" width="21.7" height="5" fill="#ff00ff"/>
<path d="M1599,1136.3H1612.2M1615,1136.3H1629" stroke="#900000" stroke-width="3.6"/>
<path d="M1549.2,1003V1009.5M1680.1,1003V1009.5" stroke="#900000" stroke-width="3"/>
<polygon points="1578.2,1179.3 1594.9,1179.3 1594.9,1212.4 1578.2,1212.4 1578.2,1198.2 1583,1198.2 1583,1205.8 1590.1,1205.8 1590.1,1185.6 1583,1185.6 1583,1193.6 1578.2,1193.6" fill="#ff00ff" stroke="#900000" stroke-width="1.8"/>
<rect x="1483.6" y="937.3" width="262.2" height="294.3" fill="none" stroke="#808000" stroke-width="1.6"/>
</g>
<g>
<rect x="1760.1" y="937.3" width="259.4" height="294.3" fill="#ffff00" stroke="#808000" stroke-width="1.6"/>
<rect x="1760.1" y="937.3" width="259.4" height="294.3" fill="none" stroke="#808000" stroke-width="1.6"/>
<path d="M1760.6,1231.0 C1761.2,1229.9 1762.0,1228.7 1764.0,1224.5 C1766.0,1220.3 1769.1,1212.2 1772.8,1206.0 C1776.5,1199.8 1782.2,1192.5 1786.3,1187.2 C1790.4,1181.9 1792.2,1178.5 1797.2,1174.0 C1802.2,1169.5 1809.7,1164.1 1816.0,1160.5 C1822.3,1156.9 1828.2,1154.7 1835.0,1152.4 C1841.8,1150.1 1849.6,1148.1 1856.5,1146.9 C1863.4,1145.7 1872.9,1145.4 1876.2,1145.1 A15.05,11.5 0 0,0 1906.3,1145.1 C1909.8,1145.4 1920.7,1145.7 1927.3,1146.9 C1933.9,1148.1 1939.7,1150.1 1946.0,1152.4 C1952.3,1154.7 1959.2,1156.9 1965.0,1160.5 C1970.8,1164.1 1976.1,1169.5 1981.0,1174.0 C1985.9,1178.5 1990.3,1181.9 1994.6,1187.2 C1998.9,1192.5 2003.4,1199.8 2006.9,1206.0 C2010.4,1212.2 2013.8,1220.3 2015.8,1224.5 C2017.8,1228.7 2018.5,1229.9 2019.0,1231.0 Z" fill="#ff00ff" stroke="#900000" stroke-width="2"/>
<path d="M1761,1231.6H2019" stroke="#990099" stroke-width="1.6"/>
</g>
</svg></body></html>
